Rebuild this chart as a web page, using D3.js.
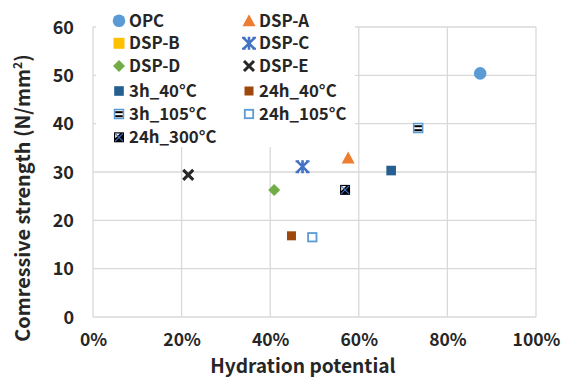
<!DOCTYPE html>
<html>
<head>
<meta charset="utf-8">
<script src="https://cdn.jsdelivr.net/npm/d3@7"></script>
<style>
  html, body { margin: 0; padding: 0; background: #fff; }
  svg text { font-family: "Noto Sans CJK JP", "Noto Sans", sans-serif; font-weight: bold; fill: #262626; }
</style>
</head>
<body>
<svg id="chart" width="564" height="378"></svg>
<script>
// Series of the scatter plot: hydration potential (fraction) vs compressive strength (N/mm²)
const seriesNames = ["OPC", "DSP-A", "DSP-B", "DSP-C", "DSP-D", "DSP-E",
                     "3h_40°C", "24h_40°C", "3h_105°C", "24h_105°C", "24h_300°C"];
const hydration = [0.874, 0.576, null, 0.473, 0.409, 0.215, 0.673, 0.448, 0.734, 0.495, 0.569];
const strength  = [50.4, 32.9, null, 31.1, 26.3, 29.4, 30.3, 16.8, 39.1, 16.5, 26.3];
const xTicks = [0, 0.2, 0.4, 0.6, 0.8, 1.0];
const yTicks = [0, 10, 20, 30, 40, 50, 60];

const svg = d3.select("#chart");
const x = d3.scaleLinear().domain([0, 1]).range([93, 536]);
const y = d3.scaleLinear().domain([0, 60]).range([317, 27]);

// gridlines
const grid = svg.append("g");
grid.selectAll("line.v").data(xTicks).join("line")
  .attr("x1", d => x(d)).attr("x2", d => x(d))
  .attr("y1", y(60)).attr("y2", y(0))
  .attr("stroke", "#d9d9d9").attr("stroke-width", 1.3);
grid.selectAll("line.h").data(yTicks).join("line")
  .attr("x1", x(0)).attr("x2", x(1))
  .attr("y1", d => y(d)).attr("y2", d => y(d))
  .attr("stroke", "#d9d9d9").attr("stroke-width", 1.3);

// axes (labels only; lines are the grid)
const xAxis = svg.append("g").attr("transform", `translate(0,${y(0)})`)
  .call(d3.axisBottom(x).tickValues(xTicks).tickFormat(d3.format(".0%")).tickSize(0).tickPadding(16.5));
xAxis.select(".domain").remove();
xAxis.attr("font-family", null).attr("font-size", null);
xAxis.selectAll("text").attr("font-size", 17.5);

const yAxis = svg.append("g").attr("transform", `translate(${x(0)},0)`)
  .call(d3.axisLeft(y).tickValues(yTicks).tickSize(0).tickPadding(19));
yAxis.select(".domain").remove();
yAxis.attr("font-family", null).attr("font-size", null);
yAxis.selectAll("text").attr("font-size", 18).attr("dy", "0.35em");

// axis titles
svg.append("text").attr("x", 303).attr("y", 372.6).attr("text-anchor", "middle")
  .attr("font-size", 19.2).text("Hydration potential");
svg.append("text").attr("transform", "translate(30,198) rotate(-90)")
  .attr("text-anchor", "middle").attr("font-size", 19.8)
  .html('Comressive strength (N/mm<tspan dy="-8" font-size="12">2</tspan><tspan dy="8">)</tspan>');

// marker drawing
function drawMarker(g, i) {
  const name = seriesNames[i];
  switch (name) {
    case "OPC":
      g.append("circle").attr("r", 6.3).attr("fill", "#5b9bd5"); break;
    case "DSP-A":
      g.append("path").attr("d", "M0,-6.5L6.5,5.5L-6.5,5.5Z").attr("fill", "#ed7d31"); break;
    case "DSP-B":
      g.append("rect").attr("x", -5.5).attr("y", -5.5).attr("width", 11).attr("height", 11).attr("fill", "#ffc000"); break;
    case "DSP-C": {
      const s = 5.5;
      g.append("path").attr("d", `M${-s},${-s}L${s},${s}M${-s},${s}L${s},${-s}M0,${-s - 1}L0,${s + 1}`)
        .attr("stroke", "#4472c4").attr("stroke-width", 2.6).attr("fill", "none");
      g.append("path").attr("d", `M${-s - 1.5},${-s}H${-s + 2}M${s - 2},${-s}H${s + 1.5}M${-s - 1.5},${s}H${-s + 2}M${s - 2},${s}H${s + 1.5}`)
        .attr("stroke", "#4472c4").attr("stroke-width", 2).attr("fill", "none");
      break;
    }
    case "DSP-D":
      g.append("path").attr("d", "M0,-6L6,0L0,6L-6,0Z").attr("fill", "#70ad47"); break;
    case "DSP-E": {
      const s = 5;
      g.append("path").attr("d", `M${-s},${-s}L${s},${s}M${-s},${s}L${s},${-s}`)
        .attr("stroke", "#262626").attr("stroke-width", 3).attr("fill", "none"); break;
    }
    case "3h_40°C":
      g.append("rect").attr("x", -4.8).attr("y", -4.8).attr("width", 9.6).attr("height", 9.6).attr("fill", "#255e91"); break;
    case "24h_40°C":
      g.append("rect").attr("x", -4.5).attr("y", -4.5).attr("width", 9).attr("height", 9).attr("fill", "#9e480e"); break;
    case "3h_105°C":
      g.append("rect").attr("x", -4.5).attr("y", -4.5).attr("width", 9).attr("height", 9)
        .attr("fill", "#fff").attr("stroke", "#5b9bd5").attr("stroke-width", 1.5);
      g.append("rect").attr("x", -3.7).attr("y", -2.8).attr("width", 7.4).attr("height", 2).attr("fill", "#000");
      g.append("rect").attr("x", -3.7).attr("y", 1.2).attr("width", 7.4).attr("height", 2).attr("fill", "#000");
      break;
    case "24h_105°C":
      g.append("rect").attr("x", -4.2).attr("y", -4.2).attr("width", 8.4).attr("height", 8.4)
        .attr("fill", "#fff").attr("stroke", "#5b9bd5").attr("stroke-width", 1.8); break;
    case "24h_300°C":
      g.append("rect").attr("x", -5).attr("y", -5).attr("width", 10).attr("height", 10).attr("fill", "#000");
      g.append("path").attr("d", "M-3.8,-3.8L1,-3.8L-3.8,1Z").attr("fill", "#fff");
      g.append("path").attr("d", "M-4,-4L4,4M-4,4L4,-4").attr("stroke", "#4472c4").attr("stroke-width", 1.1);
      break;
  }
}

// data points
seriesNames.forEach((name, i) => {
  if (hydration[i] == null) return;
  const g = svg.append("g").attr("transform", `translate(${x(hydration[i])},${y(strength[i])})`);
  drawMarker(g, i);
});

// legend box inside the plot
const legend = svg.append("g");
legend.append("rect").attr("x", 96).attr("y", 9).attr("width", 259).attr("height", 138).attr("fill", "#fff");
const rowY = [20.7, 43.3, 66, 91, 114, 137.3];
const colX = [119, 249];
seriesNames.forEach((name, i) => {
  const r = Math.floor(i / 2), c = i % 2;
  const g = legend.append("g").attr("transform", `translate(${colX[c]},${rowY[r]})`);
  drawMarker(g, i);
  g.append("text").attr("x", 10).attr("y", 0).attr("dy", "0.36em").attr("font-size", 16.8).text(name);
});
</script>
</body>
</html>
